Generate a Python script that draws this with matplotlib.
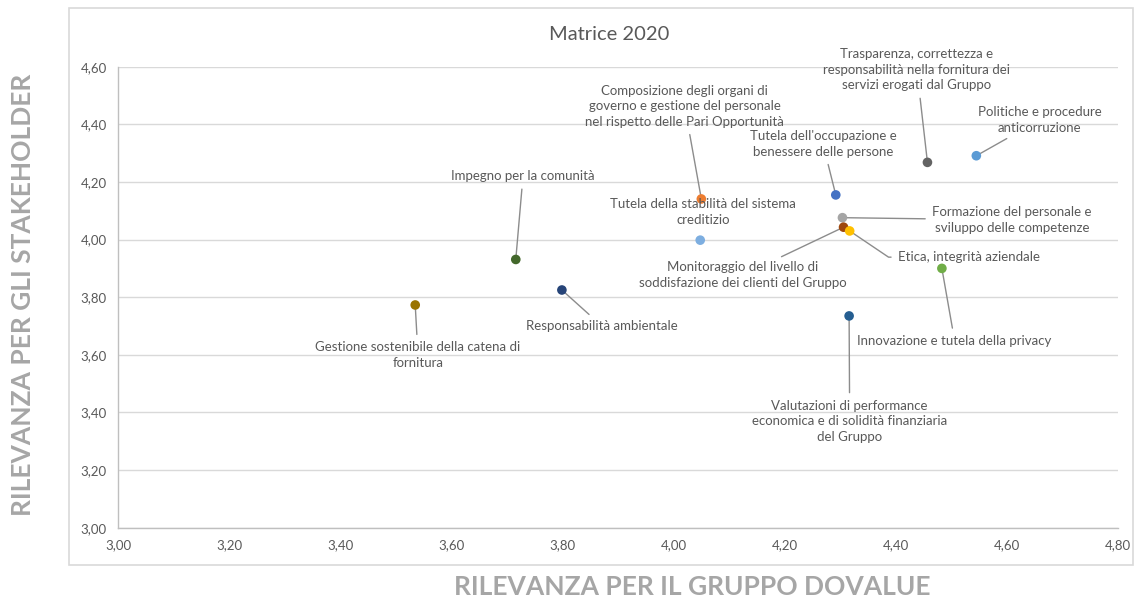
import matplotlib.pyplot as plt
from matplotlib.patches import Rectangle

plt.rcParams["font.family"] = ["Lato", "DejaVu Sans"]

TEMI = [
    "Gestione sostenibile della catena di\nfornitura",
    "Responsabilità ambientale",
    "Impegno per la comunità",
    "Composizione degli organi di\ngoverno e gestione del personale\nnel rispetto delle Pari Opportunità",
    "Tutela della stabilità del sistema\ncreditizio",
    "Tutela dell'occupazione e\nbenessere delle persone",
    "Trasparenza, correttezza e\nresponsabilità nella fornitura dei\nservizi erogati dal Gruppo",
    "Politiche e procedure\nanticorruzione",
    "Formazione del personale e\nsviluppo delle competenze",
    "Monitoraggio del livello di\nsoddisfazione dei clienti del Gruppo",
    "Etica, integrità aziendale",
    "Innovazione e tutela della privacy",
    "Valutazioni di performance\neconomica e di solidità finanziaria\ndel Gruppo",
]
RIL_GRUPPO = [3.535, 3.799, 3.716, 4.050, 4.048, 4.292, 4.457, 4.545, 4.304, 4.306, 4.317, 4.483, 4.316]
RIL_STAKE = [3.773, 3.825, 3.931, 4.141, 3.998, 4.155, 4.268, 4.291, 4.076, 4.043, 4.030, 3.900, 3.735]
COLORI = ["#997300", "#264478", "#43682B", "#ED7D31", "#7DAEE0", "#4472C4", "#636363",
          "#5B9BD5", "#A5A5A5", "#9E480E", "#FFC000", "#70AD47", "#255E91"]
XTICKS = [3.0, 3.2, 3.4, 3.6, 3.8, 4.0, 4.2, 4.4, 4.6, 4.8]
YTICKS = [3.0, 3.2, 3.4, 3.6, 3.8, 4.0, 4.2, 4.4, 4.6]

# posizione etichette (coord. dati) e stile del connettore
LAB_POS = [(3.540, 3.599), (3.871, 3.700), (3.729, 4.220), (4.020, 4.463), (4.053, 4.095),
           (4.269, 4.332), (4.438, 4.589), (4.659, 4.415), (4.609, 4.068), (4.125, 3.877),
           (4.404, 3.939), (4.506, 3.648), (4.317, 3.370)]
LAB_HA = ["center"] * 10 + ["left", "center", "center"]
LINK = [True, True, True, True, False, True, True, True, True, True, True, True, True]

GRIGIO_TXT = "#595959"


def main():
    fig = plt.figure(figsize=(11.35, 6.0), dpi=100)
    fig.patches.append(Rectangle((69 / 1135, 1 - 565 / 600), (1133 - 69) / 1135, (565 - 8) / 600,
                                 transform=fig.transFigure, fill=False, ec="#D9D9D9", lw=1.2))
    ax = fig.add_axes([118 / 1135, 1 - 527.7 / 600, 1000 / 1135, 461 / 600])

    ax.set_xlim(3.0, 4.8); ax.set_ylim(3.0, 4.6)
    ax.set_xticks(XTICKS); ax.set_yticks(YTICKS)
    ax.set_xticklabels([f"{v:.2f}".replace(".", ",") for v in XTICKS])
    ax.set_yticklabels([f"{v:.2f}".replace(".", ",") for v in YTICKS])
    ax.tick_params(length=0, labelsize=9.5, labelcolor=GRIGIO_TXT, pad=8)
    ax.grid(axis="y", color="#D9D9D9", lw=1)
    ax.set_axisbelow(True)
    for s in ("top", "right"):
        ax.spines[s].set_visible(False)
    for s in ("left", "bottom"):
        ax.spines[s].set_color("#BFBFBF"); ax.spines[s].set_linewidth(1)

    ax.scatter(RIL_GRUPPO, RIL_STAKE, s=48, c=COLORI, zorder=3, linewidths=0)

    for i, t in enumerate(TEMI):
        if not LINK[i]:
            ax.text(*LAB_POS[i], t, ha="center", va="center", fontsize=9.5,
                    color=GRIGIO_TXT, linespacing=1.35)
            continue
        ap = dict(arrowstyle="-", color="#8C8C8C", lw=1, shrinkA=3, shrinkB=3)
        if LAB_HA[i] == "left":
            ap.update(relpos=(0, 0.5), connectionstyle="angle,angleA=0,angleB=-34,rad=0")
        ax.annotate(t, xy=(RIL_GRUPPO[i], RIL_STAKE[i]), xytext=LAB_POS[i],
                    ha=LAB_HA[i], va="center", fontsize=9.5, color=GRIGIO_TXT,
                    linespacing=1.35, arrowprops=ap, zorder=2)

    fig.text(609 / 1135, 1 - 35 / 600, "Matrice 2020", ha="center", va="center",
             fontsize=14.5, color=GRIGIO_TXT)
    fig.text(692 / 1135, 1 - 587 / 600, "RILEVANZA PER IL GRUPPO DOVALUE", ha="center",
             va="center", fontsize=19, fontweight="bold", color="#A6A6A6")
    fig.text(23 / 1135, 1 - 295 / 600, "RILEVANZA PER GLI STAKEHOLDER", ha="center",
             va="center", rotation=90, fontsize=19, fontweight="bold", color="#A6A6A6")

    fig.savefig("out.png", dpi=100)
    plt.close(fig)


if __name__ == "__main__":
    main()
